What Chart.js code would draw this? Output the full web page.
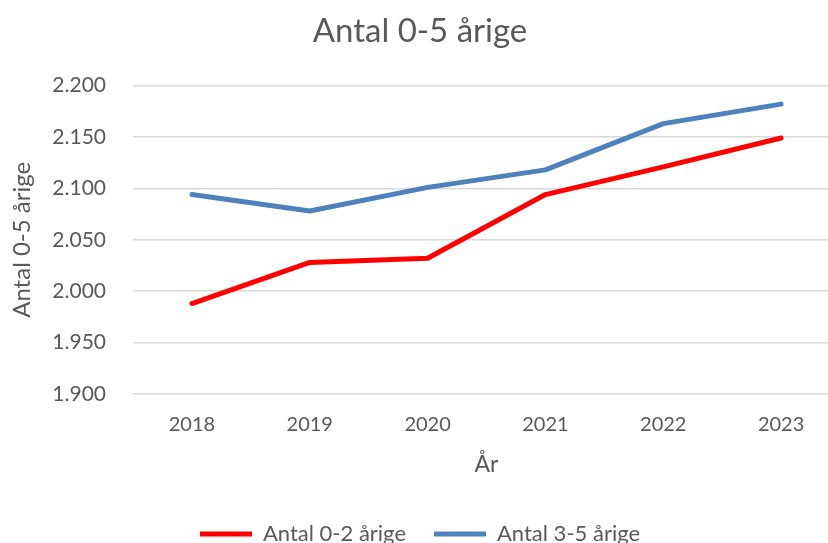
<!DOCTYPE html>
<html>
<head>
<meta charset="utf-8">
<script src="https://cdn.jsdelivr.net/npm/chart.js@4"></script>
<style>
  html, body { margin: 0; padding: 0; background: #fff; overflow: hidden; }
  #wrap { width: 840px; height: 555px; }
</style>
</head>
<body>
<div id="wrap"><canvas id="chart" width="840" height="555"></canvas></div>
<script>
// ── DATA ──────────────────────────────────────────────────────────────────────
const years      = ['2018', '2019', '2020', '2021', '2022', '2023'];
const age0to2    = [1988, 2028, 2032, 2094, 2121, 2149];
const age3to5    = [2094, 2078, 2101, 2118, 2163, 2182];
const yTicks     = [1900, 1950, 2000, 2050, 2100, 2150, 2200];

const FONT  = "Lato, 'Open Sans', sans-serif";
const GREY  = '#595959';

// danish thousands separator
const fmt = v => String(v).replace(/\B(?=(\d{3})+(?!\d))/g, '.');

new Chart(document.getElementById('chart'), {
  type: 'line',
  data: {
    labels: years,
    datasets: [
      {
        label:           'Antal 0-2 årige',
        data:            age0to2,
        borderColor:     '#FF0000',
        backgroundColor: '#FF0000',
        borderWidth:     5,
        borderCapStyle:  'round',
        borderJoinStyle: 'round',
        pointRadius:     0,
        tension:         0,
        fill:            false
      },
      {
        label:           'Antal 3-5 årige',
        data:            age3to5,
        borderColor:     '#4F81BD',
        backgroundColor: '#4F81BD',
        borderWidth:     5,
        borderCapStyle:  'round',
        borderJoinStyle: 'round',
        pointRadius:     0,
        tension:         0,
        fill:            false
      }
    ]
  },
  options: {
    responsive: false,
    animation:  false,
    layout: { padding: { left: 0, right: 0, top: 0, bottom: 0 } },
    plugins: {
      title: {
        display: true,
        text:    'Antal 0-5 årige',
        color:   GREY,
        font:    { family: FONT, size: 33, weight: 'normal' },
        padding: { top: 12, bottom: 34 }
      },
      legend: {
        position: 'bottom',
        labels: {
          color:     GREY,
          font:      { family: FONT, size: 22 },
          boxWidth:  52,
          boxHeight: 5,
          useBorderRadius: true,
          borderRadius: 2,
          padding:   28,
          generateLabels: chart => chart.data.datasets.map((ds, i) => ({
            text:      ds.label,
            fillStyle: ds.borderColor,
            strokeStyle: ds.borderColor,
            lineWidth: 0,
            fontColor: GREY,
            datasetIndex: i,
            hidden: false
          }))
        }
      },
      tooltip: { enabled: false }
    },
    scales: {
      x: {
        offset: true,
        grid:   { display: false, drawTicks: false },
        border: { display: false },
        ticks:  {
          color:   GREY,
          font:    { family: FONT, size: 20 },
          padding: 19,
          maxRotation: 0
        },
        title: {
          display: true,
          text:    'År',
          color:   GREY,
          font:    { family: FONT, size: 23 },
          padding: { top: 0, bottom: 17 }
        },
        afterFit: s => { s.height = 101; }
      },
      y: {
        min: 1900,
        max: 2200,
        afterBuildTicks: s => { s.ticks = yTicks.map(v => ({ value: v })); },
        grid:   { color: '#D9D9D9', lineWidth: 1.5, drawTicks: false },
        border: { display: false },
        ticks:  {
          color:    GREY,
          font:     { family: FONT, size: 21 },
          padding:  27,
          callback: v => fmt(v)
        },
        title: {
          display: true,
          text:    'Antal 0-5 årige',
          color:   GREY,
          font:    { family: FONT, size: 24 },
          padding: { top: 8, bottom: 0 }
        },
        afterFit: s => { s.width = 133; }
      }
    }
  }
});
</script>
</body>
</html>
